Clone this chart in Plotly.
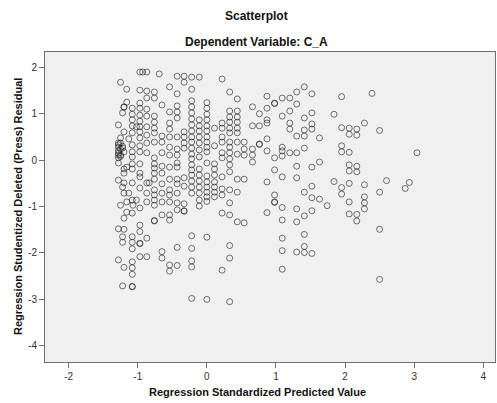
import plotly.graph_objects as go

# Regression standardized predicted value levels (columns of points)
col_x = [-1.28, -1.25, -1.22, -1.20, -1.16, -1.13, -1.08, -1.07, -1.02, -0.97,
         -0.93, -0.87, -0.835, -0.76, -0.69, -0.65, -0.54, -0.43, -0.33, -0.22,
         -0.11, 0.00, 0.11, 0.22, 0.33, 0.44, 0.54, 0.66, 0.76, 0.87,
         0.98, 1.09, 1.20, 1.30, 1.41, 1.52, 1.63, 1.74, 1.84, 1.95,
         2.06, 2.17, 2.28, 2.39, 2.50, 2.60, 2.87, 2.93, 3.04]

# Studentized deleted (press) residuals for each predicted-value level
col_y = [
    [0.76, 0.37, 0.28, 0.20, 0.11, 0.05, -0.06, -0.43, -1.48, -2.15, 0.33, 0.15],
    [1.68, 0.37, 0.48, 0.11, -0.97, 0.24, 0.08],
    [1.02, 0.26, -0.58, -1.65, -1.77, -2.71, 0.30],
    [1.15, 1.14, 0.61, 0.18, -0.19, -0.28, -0.49, -0.71, -1.25, -1.49, -2.31],
    [1.53, 1.25, -0.15, -0.90, -1.12],
    [0.46, -0.71],
    [1.12, 0.99, 0.87, 0.74, 0.59, 0.33, 0.18, 0.07, -0.08, -0.19, -0.49, -0.86,
     -1.14, -1.65, -1.77, -1.91, -2.19, -2.32, -2.46, -2.73, -2.72],
    [-0.97],
    [0.72, -0.86],
    [1.90, 1.51, 1.23, 1.12, 0.97, 0.84, 0.72, 0.61, 0.48, 0.31, 0.18, -0.08,
     -0.28, -0.36, -0.60, -1.03, -1.40, -1.54, -1.79, -1.80, -2.08],
    [1.90],
    [1.90, 1.49, 1.34, 1.10, 0.95, 0.72, 0.54, 0.37, 0.16, -0.49, -0.71, -0.90,
     -1.68, -2.08],
    [-0.49],
    [1.47, 1.34, 0.95, 0.82, 0.69, 0.59, 0.39, 0.05, -0.08, -0.17, -0.28, -0.41,
     -0.64, -0.75, -0.86, -0.97, -1.30, -1.31],
    [1.86],
    [1.19, 0.52, 0.39, 0.16, -0.13, -0.28, -0.51, -0.71, -0.90, -1.18, -1.97, -2.11],
    [1.58, 1.04, 0.80, 0.67, 0.50, 0.28, 0.11, -0.15, -0.41, -0.64, -0.75, -0.90,
     -1.18, -1.29, -2.26, -2.39],
    [1.81, 1.43, 1.17, 1.04, 0.91, 0.50, 0.24, 0.11, -0.06, -0.15, -0.41, -0.51,
     -0.71, -0.92, -1.07, -1.88, -2.27],
    [1.81, 1.68, 0.61, 0.50, 0.37, 0.26, -0.38, -0.56, -0.94, -1.09, -1.10],
    [1.79, 1.53, 1.28, 1.15, 1.02, 0.89, 0.76, 0.63, 0.50, 0.39, 0.26, 0.13,
     0.03, -0.10, -0.21, -0.32, -0.45, -0.58, -0.71, -1.63, -1.90, -2.17, -2.30, -2.98],
    [1.79, 0.87, 0.74, 0.63, 0.50, 0.37, 0.22, 0.07, -0.19, -0.32, -0.45, -0.58,
     -0.71, -0.86, -0.99],
    [1.24, 1.12, 0.99, 0.87, 0.74, 0.63, 0.50, 0.39, 0.28, 0.18, -0.06, -0.34,
     -0.47, -0.58, -0.69, -0.79, -0.89, -1.66, -3.00],
    [0.69, 0.31, -0.08, -0.19, -0.32, -0.47, -0.58, -0.69, -0.79],
    [1.75, 0.80, 0.69, 0.50, 0.39, 0.16, 0.05, -0.36, -0.62, -0.75, -1.14, -2.37],
    [1.47, 1.06, 0.93, 0.82, 0.69, 0.59, 0.39, 0.28, 0.16, 0.03, -0.10, -0.25,
     -0.64, -0.92, -1.18, -1.84, -2.11, -3.05],
    [1.32, 1.06, 0.93, 0.82, 0.69, 0.59, 0.39, 0.13, -0.41, -0.69, -1.33],
    [0.39, 0.24, 0.11, -0.41, -1.35],
    [1.15, 0.74, 0.24, 0.11, -0.04],
    [1.00, 0.74, 0.35, 0.34],
    [1.38, 1.12, 0.87, 0.80, 0.46, 0.20, -0.47, -1.13],
    [1.23, 1.22, 0.05, -0.21, -0.75, -0.90, -0.91],
    [1.34, 0.95, 0.28, 0.20, 0.09, -0.36, -1.02, -1.29, -1.68, -1.95, -2.35],
    [1.34, 1.06, 0.80, 0.67, 0.16],
    [1.47, 1.21, 0.52, 0.16, -0.13, -0.38, -1.05, -1.33, -1.98],
    [1.58, 0.91, 0.65, 0.52, 0.26, -0.69, -1.20, -1.60, -1.86, -1.99],
    [1.43, 1.02, 0.78, 0.67, -0.15, -0.56, -0.81, -1.09, -2.01],
    [0.48, -0.04, -0.84],
    [-0.98],
    [0.99, -0.46],
    [1.37, 0.70, 0.31, 0.18, -0.59, -0.73],
    [0.69, 0.56, 0.17, -0.10, -0.23, -0.50, -0.90, -1.16],
    [0.67, 0.54, -0.13, -0.25, -1.17, -1.31],
    [0.80, -0.53, -0.79, -0.92, -1.05],
    [1.44],
    [0.64, -0.69, -1.49, -2.57],
    [-0.44],
    [-0.61],
    [-0.48],
    [0.16],
]

x_tick_vals = [-2, -1, 0, 1, 2, 3, 4]
x_tick_text = ["-2", "-1", "0", "1", "2", "3", "4"]
y_tick_vals = [-4, -3, -2, -1, 0, 1, 2]
y_tick_text = ["-4", "-3", "-2", "-1", "0", "1", "2"]

xs, ys = [], []
for cx, vals in zip(col_x, col_y):
    for v in vals:
        xs.append(cx)
        ys.append(v)

FONT = "Arial, Liberation Sans, sans-serif"

fig = go.Figure(go.Scatter(
    x=xs, y=ys, mode="markers",
    marker=dict(symbol="circle-open", size=6, color="rgba(30,30,30,0.62)",
                line=dict(width=1, color="rgba(30,30,30,0.62)")),
    hoverinfo="skip",
))

axis_common = dict(showgrid=False, zeroline=False, showline=True, mirror=True,
                   linecolor="#6e6e6e", linewidth=1, ticks="outside", ticklen=5,
                   tickcolor="#6e6e6e", tickfont=dict(family=FONT, size=10, color="#333"))

fig.update_xaxes(range=[-2.343, 4.17], tickvals=x_tick_vals, ticktext=x_tick_text,
                 **axis_common)
fig.update_yaxes(range=[-4.35, 2.332], tickvals=y_tick_vals, ticktext=y_tick_text,
                 **axis_common)

fig.update_layout(
    width=497, height=403,
    margin=dict(l=45, r=2, t=52, b=41),
    plot_bgcolor="#f0f0f0", paper_bgcolor="white",
    showlegend=False,
    font=dict(family=FONT),
    annotations=[
        dict(text="<b>Scatterplot</b>", xref="paper", yref="paper", x=0.469, y=1.116,
             showarrow=False, font=dict(family=FONT, size=12, color="#111"),
             xanchor="center", yanchor="middle"),
        dict(text="<b>Dependent Variable: C_A</b>", xref="paper", yref="paper",
             x=0.469, y=1.033, showarrow=False,
             font=dict(family=FONT, size=12, color="#111"),
             xanchor="center", yanchor="middle"),
        dict(text="<b>Regression Standardized Predicted Value</b>", xref="paper",
             yref="paper", x=0.473, y=-0.097, showarrow=False,
             font=dict(family=FONT, size=11, color="#111"),
             xanchor="center", yanchor="middle"),
        dict(text="<b>Regression Studentized Deleted (Press) Residual</b>", xref="paper",
             yref="paper", x=-0.06, y=0.5, showarrow=False, textangle=-90,
             font=dict(family=FONT, size=11, color="#111"),
             xanchor="center", yanchor="middle"),
    ],
)

fig.write_html("out.html")
